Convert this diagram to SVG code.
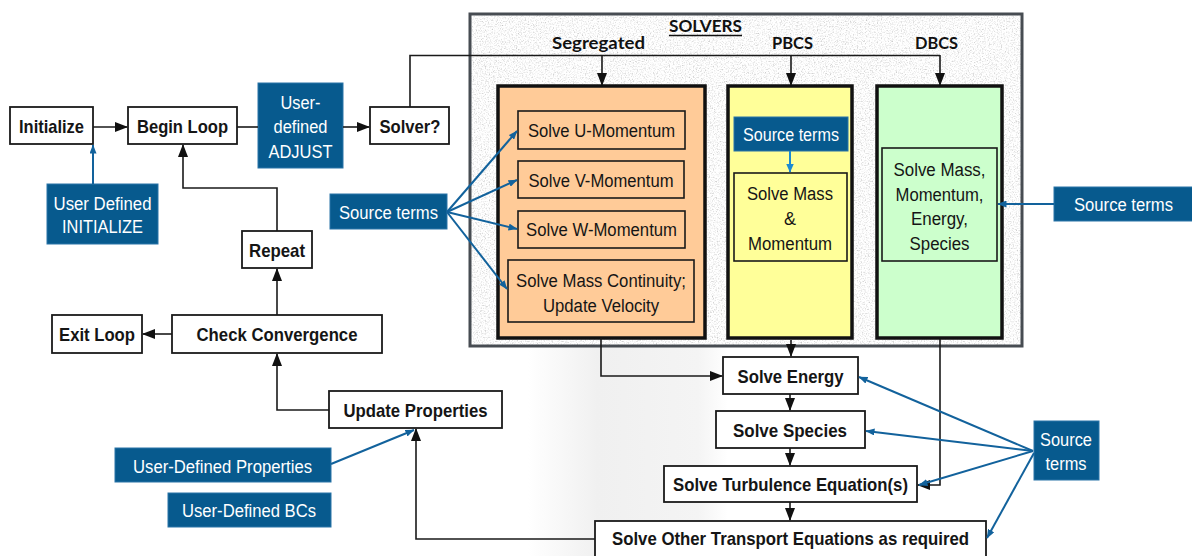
<svg xmlns="http://www.w3.org/2000/svg" width="1192" height="556" viewBox="0 0 1192 556">
  <defs>
    <style>
      .box { fill: #ffffff; stroke: #1a1a1a; stroke-width: 1.8; }
      .inner { stroke: #1a1a1a; stroke-width: 1.6; }
      .solver { stroke: #111111; stroke-width: 3.5; }
      .note { fill: #075a8e; stroke: #2a74a8; stroke-width: 1; }
      .lbl { font-family: "Liberation Sans", Arial, sans-serif; font-weight: bold; font-size: 19px; fill: #151515; text-anchor: middle; }
      .txt { font-family: "Liberation Sans", Arial, sans-serif; font-size: 18px; fill: #151515; text-anchor: middle; }
      .wt { font-family: "Liberation Sans", Arial, sans-serif; font-size: 18px; fill: #ffffff; text-anchor: middle; }
      .hd { font-family: Lato, "Open Sans", "Liberation Sans", sans-serif; font-weight: bold; font-size: 17px; fill: #111111; text-anchor: middle; }
      .flow { fill: none; stroke: #1a1a1a; stroke-width: 1.6; }
      .src { fill: none; stroke: #12629c; stroke-width: 2; }
    </style>
    <marker id="ah" markerWidth="13" markerHeight="10" refX="12" refY="5" orient="auto" markerUnits="userSpaceOnUse">
      <path d="M0,0 L13,5 L0,10 z" fill="#111111"/>
    </marker>
    <marker id="bh" markerWidth="9" markerHeight="7" refX="8.5" refY="3.5" orient="auto" markerUnits="userSpaceOnUse">
      <path d="M0,0 L9,3.5 L0,7 z" fill="#12629c"/>
    </marker>
    <marker id="lbh" markerWidth="9" markerHeight="8" refX="8.5" refY="4" orient="auto" markerUnits="userSpaceOnUse">
      <path d="M0,0 L9,4 L0,8 z" fill="#1b8ad2"/>
    </marker>
    <linearGradient id="haze" x1="0" y1="0" x2="1" y2="0">
      <stop offset="0" stop-color="#ffffff"/>
      <stop offset="0.35" stop-color="#f0f0f0"/>
      <stop offset="0.85" stop-color="#f4f4f4"/>
      <stop offset="1" stop-color="#ffffff"/>
    </linearGradient>
    <!-- speckled stone texture for the solver panel -->
    <filter id="granite" x="0" y="0" width="100%" height="100%" color-interpolation-filters="sRGB">
      <feTurbulence type="fractalNoise" baseFrequency="0.75" numOctaves="3" seed="7" result="n"/>
      <feColorMatrix in="n" type="matrix" values="0.33 0.33 0.33 0 0  0.33 0.33 0.33 0 0  0.33 0.33 0.33 0 0  0 0 0 0 1" result="g"/>
      <feComponentTransfer in="g" result="t">
        <feFuncR type="linear" slope="0.8" intercept="0.59"/>
        <feFuncG type="linear" slope="0.8" intercept="0.59"/>
        <feFuncB type="linear" slope="0.8" intercept="0.59"/>
      </feComponentTransfer>
      <feComposite in="t" in2="SourceGraphic" operator="in"/>
    </filter>
  </defs>

  <rect width="1192" height="556" fill="#ffffff"/>
  <!-- soft shading under the solver panel -->
  <rect x="528" y="347" width="200" height="209" fill="url(#haze)"/>

  <!-- solver panel -->
  <g id="solvers">
    <rect x="470" y="14" width="552" height="332" fill="#e6e6e6" filter="url(#granite)"/>
    <rect x="470" y="14" width="552" height="332" fill="none" stroke="#474c52" stroke-width="3"/>
    <text class="hd" x="705.5" y="32" textLength="73" lengthAdjust="spacingAndGlyphs">SOLVERS</text>
    <line x1="669" y1="35.5" x2="742" y2="35.5" stroke="#111" stroke-width="1.3"/>
    <text class="hd" x="598.5" y="49" textLength="93" lengthAdjust="spacingAndGlyphs">Segregated</text>
    <text class="hd" x="792.5" y="49" textLength="41" lengthAdjust="spacingAndGlyphs">PBCS</text>
    <text class="hd" x="936.5" y="49" textLength="43" lengthAdjust="spacingAndGlyphs">DBCS</text>
  </g>

  <g id="segregated">
    <rect class="solver" x="498" y="86" width="207" height="252" fill="#ffcb98"/>
    <g id="u-momentum">
      <rect class="inner" x="518" y="111" width="167" height="38" fill="#ffcb98"/>
      <text class="txt" x="601.5" y="136.5" textLength="147" lengthAdjust="spacingAndGlyphs">Solve U-Momentum</text>
    </g>
    <g id="v-momentum">
      <rect class="inner" x="518" y="161" width="166" height="37" fill="#ffcb98"/>
      <text class="txt" x="601" y="186.5" textLength="145" lengthAdjust="spacingAndGlyphs">Solve V-Momentum</text>
    </g>
    <g id="w-momentum">
      <rect class="inner" x="518" y="211" width="167" height="37" fill="#ffcb98"/>
      <text class="txt" x="601.5" y="236" textLength="151" lengthAdjust="spacingAndGlyphs">Solve W-Momentum</text>
    </g>
    <g id="mass-continuity">
      <rect class="inner" x="508" y="260" width="186" height="62" fill="#ffcb98"/>
      <text class="txt" x="601" y="286.5" textLength="170" lengthAdjust="spacingAndGlyphs">Solve Mass Continuity;</text>
      <text class="txt" x="601" y="312" textLength="116" lengthAdjust="spacingAndGlyphs">Update Velocity</text>
    </g>
  </g>

  <g id="pbcs">
    <rect class="solver" x="728" y="86" width="124" height="252" fill="#ffff99"/>
    <g id="pbcs-source">
      <rect class="note" x="734" y="117" width="114" height="34"/>
      <text class="wt" x="791" y="140.5" textLength="96" lengthAdjust="spacingAndGlyphs">Source terms</text>
    </g>
    <g id="mass-momentum">
      <rect class="inner" x="734" y="173" width="113" height="88" fill="#ffff99"/>
      <text class="txt" x="790" y="199.5" textLength="86" lengthAdjust="spacingAndGlyphs">Solve Mass</text>
      <text class="txt" x="790" y="224.5">&amp;</text>
      <text class="txt" x="790" y="249.5" textLength="84" lengthAdjust="spacingAndGlyphs">Momentum</text>
    </g>
  </g>

  <g id="dbcs">
    <rect class="solver" x="877" y="86" width="125" height="252" fill="#ccffcc"/>
    <g id="coupled-all">
      <rect class="inner" x="882" y="148" width="115" height="113" fill="#ccffcc"/>
      <text class="txt" x="939.5" y="175.5" textLength="92" lengthAdjust="spacingAndGlyphs">Solve Mass,</text>
      <text class="txt" x="939.5" y="200.5" textLength="88" lengthAdjust="spacingAndGlyphs">Momentum,</text>
      <text class="txt" x="939.5" y="224.5" textLength="57" lengthAdjust="spacingAndGlyphs">Energy,</text>
      <text class="txt" x="939.5" y="249.5" textLength="60" lengthAdjust="spacingAndGlyphs">Species</text>
    </g>
  </g>

  <!-- main loop nodes -->
  <g id="initialize">
    <rect class="box" x="10" y="107" width="83" height="37"/>
    <text class="lbl" x="51.5" y="133" textLength="65" lengthAdjust="spacingAndGlyphs">Initialize</text>
  </g>
  <g id="begin-loop">
    <rect class="box" x="128" y="107" width="109" height="37"/>
    <text class="lbl" x="182.5" y="133" textLength="91" lengthAdjust="spacingAndGlyphs">Begin Loop</text>
  </g>
  <g id="user-adjust">
    <rect class="note" x="258" y="83" width="85" height="85"/>
    <text class="wt" x="300.5" y="108.5" textLength="40" lengthAdjust="spacingAndGlyphs">User-</text>
    <text class="wt" x="300.5" y="132.5" textLength="54" lengthAdjust="spacingAndGlyphs">defined</text>
    <text class="wt" x="300.5" y="157.5" textLength="64" lengthAdjust="spacingAndGlyphs">ADJUST</text>
  </g>
  <g id="solver-choice">
    <rect class="box" x="370" y="107" width="79" height="37"/>
    <text class="lbl" x="410" y="133" textLength="61" lengthAdjust="spacingAndGlyphs">Solver?</text>
  </g>
  <g id="user-initialize">
    <rect class="note" x="47" y="184" width="111" height="60"/>
    <text class="wt" x="102.5" y="209.5" textLength="98" lengthAdjust="spacingAndGlyphs">User Defined</text>
    <text class="wt" x="102.5" y="232.5" textLength="81" lengthAdjust="spacingAndGlyphs">INITIALIZE</text>
  </g>
  <g id="repeat">
    <rect class="box" x="242" y="231" width="70" height="37"/>
    <text class="lbl" x="277" y="257" textLength="56" lengthAdjust="spacingAndGlyphs">Repeat</text>
  </g>
  <g id="exit-loop">
    <rect class="box" x="52" y="315" width="90" height="38"/>
    <text class="lbl" x="97" y="341" textLength="76" lengthAdjust="spacingAndGlyphs">Exit Loop</text>
  </g>
  <g id="check-convergence">
    <rect class="box" x="172" y="315" width="210" height="38"/>
    <text class="lbl" x="277" y="341" textLength="161" lengthAdjust="spacingAndGlyphs">Check Convergence</text>
  </g>
  <g id="update-properties">
    <rect class="box" x="329" y="391" width="173" height="37"/>
    <text class="lbl" x="415.5" y="416.5" textLength="144" lengthAdjust="spacingAndGlyphs">Update Properties</text>
  </g>
  <g id="source-left">
    <rect class="note" x="330" y="194" width="117" height="35"/>
    <text class="wt" x="388.5" y="218.5" textLength="99" lengthAdjust="spacingAndGlyphs">Source terms</text>
  </g>
  <g id="user-properties">
    <rect class="note" x="115" y="448" width="216" height="34"/>
    <text class="wt" x="222.5" y="472.5" textLength="179" lengthAdjust="spacingAndGlyphs">User-Defined Properties</text>
  </g>
  <g id="user-bcs">
    <rect class="note" x="168" y="493" width="163" height="34"/>
    <text class="wt" x="249" y="516.5" textLength="134" lengthAdjust="spacingAndGlyphs">User-Defined BCs</text>
  </g>

  <!-- transport equations -->
  <g id="solve-energy">
    <rect class="box" x="723" y="357" width="135" height="37"/>
    <text class="lbl" x="790.5" y="382.5" textLength="106" lengthAdjust="spacingAndGlyphs">Solve Energy</text>
  </g>
  <g id="solve-species">
    <rect class="box" x="716" y="411" width="149" height="37"/>
    <text class="lbl" x="790" y="436.5" textLength="114" lengthAdjust="spacingAndGlyphs">Solve Species</text>
  </g>
  <g id="solve-turbulence">
    <rect class="box" x="664" y="466" width="253" height="36"/>
    <text class="lbl" x="790.5" y="491" textLength="235" lengthAdjust="spacingAndGlyphs">Solve Turbulence Equation(s)</text>
  </g>
  <g id="solve-other">
    <rect class="box" x="595" y="521" width="391" height="40"/>
    <text class="lbl" x="790.5" y="545" textLength="357" lengthAdjust="spacingAndGlyphs">Solve Other Transport Equations as required</text>
  </g>
  <g id="source-right">
    <rect class="note" x="1054" y="187" width="140" height="34"/>
    <text class="wt" x="1123.5" y="210.5" textLength="99" lengthAdjust="spacingAndGlyphs">Source terms</text>
  </g>
  <g id="source-bottom">
    <rect class="note" x="1034" y="421" width="65" height="59"/>
    <text class="wt" x="1066" y="445.5" textLength="52" lengthAdjust="spacingAndGlyphs">Source</text>
    <text class="wt" x="1066" y="469.5" textLength="41" lengthAdjust="spacingAndGlyphs">terms</text>
  </g>

  <g id="connectors">
    <!-- control flow -->
    <path class="flow" d="M93,127 H127" marker-end="url(#ah)"/>
    <path class="flow" d="M237,127 H258"/>
    <path class="flow" d="M343,127 H369" marker-end="url(#ah)"/>
    <path class="flow" d="M410,107 V55.5 H940"/>
    <path class="flow" d="M602,55.5 V85" marker-end="url(#ah)"/>
    <path class="flow" d="M791,55.5 V85" marker-end="url(#ah)"/>
    <path class="flow" d="M940,55 V85" marker-end="url(#ah)"/>
    <path class="flow" d="M277,231 V188 H183 V145" marker-end="url(#ah)"/>
    <path class="flow" d="M277,315 V269" marker-end="url(#ah)"/>
    <path class="flow" d="M172,334 H143" marker-end="url(#ah)"/>
    <path class="flow" d="M329,410 H277 V354" marker-end="url(#ah)"/>
    <path class="flow" d="M595,539 H416 V429" marker-end="url(#ah)"/>
    <path class="flow" d="M601,338 V376 H722" marker-end="url(#ah)"/>
    <path class="flow" d="M791,340 V356" marker-end="url(#ah)"/>
    <path class="flow" d="M940,339 V485 H918" marker-end="url(#ah)"/>
    <path class="flow" d="M790,394 V410" marker-end="url(#ah)"/>
    <path class="flow" d="M790,448 V465" marker-end="url(#ah)"/>
    <path class="flow" d="M790,502 V520" marker-end="url(#ah)"/>

    <!-- user hooks and source terms -->
    <path class="src" d="M93,184 V145" marker-end="url(#bh)"/>
    <path class="src" d="M331,464 L414,430" marker-end="url(#bh)"/>
    <path class="src" d="M447,212 L517,131" marker-end="url(#bh)"/>
    <path class="src" d="M447,212 L517,180" marker-end="url(#bh)"/>
    <path class="src" d="M447,212 L517,229" marker-end="url(#bh)"/>
    <path class="src" d="M447,212 L507,289" marker-end="url(#bh)"/>
    <path d="M790,151 V172" fill="none" stroke="#1b8ad2" stroke-width="2" marker-end="url(#lbh)"/>
    <path class="src" d="M1054,204 H998" marker-end="url(#bh)"/>
    <path class="src" d="M1033,451 L859,377" marker-end="url(#bh)"/>
    <path class="src" d="M1033,451 L866,431" marker-end="url(#bh)"/>
    <path class="src" d="M1033,451 L919,485" marker-end="url(#bh)"/>
    <path class="src" d="M1034,453 L987,538" marker-end="url(#bh)"/>
  </g>
</svg>
